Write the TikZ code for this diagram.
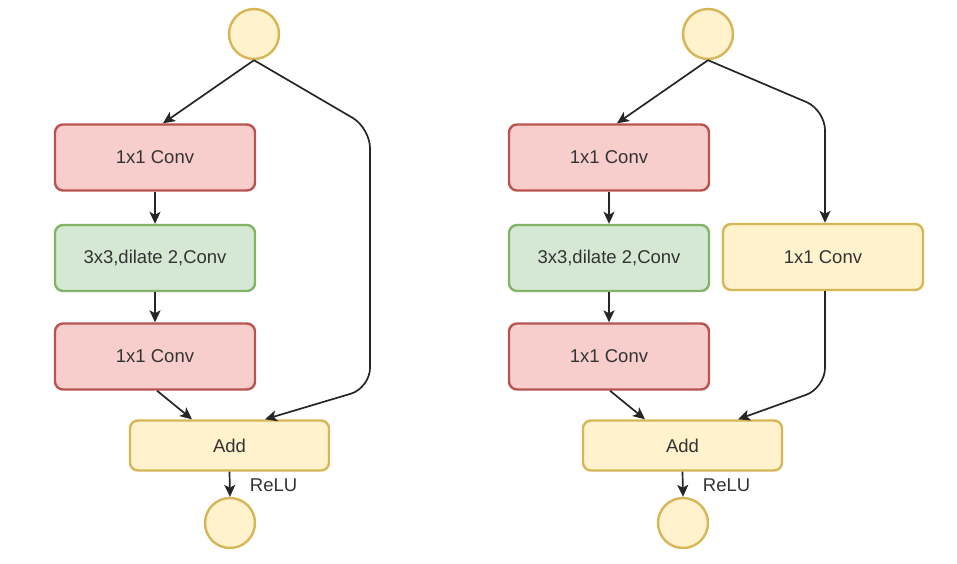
\documentclass[tikz,border=0pt]{standalone}
\usepackage{fontspec}
\setmainfont{Liberation Sans}
\usetikzlibrary{arrows.meta}
\definecolor{redfill}{HTML}{F8CECC}
\definecolor{redline}{HTML}{B85450}
\definecolor{greenfill}{HTML}{D5E8D4}
\definecolor{greenline}{HTML}{82B366}
\definecolor{yelfill}{HTML}{FFF2CC}
\definecolor{yelline}{HTML}{D6B656}
\definecolor{txt}{HTML}{333333}
\begin{document}
\begin{tikzpicture}[x=1pt,y=-1pt,
  box/.style={rectangle, rounded corners=8pt, line width=2.4pt, minimum width=200pt, minimum height=66pt, inner sep=0pt, font=\fontsize{18.5}{20}\selectfont, text=txt},
  redbox/.style={box, draw=redline, fill=redfill},
  greenbox/.style={box, draw=greenline, fill=greenfill},
  yelbox/.style={box, draw=yelline, fill=yelfill},
  addbox/.style={yelbox, minimum width=199pt, minimum height=50pt},
  io/.style={circle, draw=yelline, fill=yelfill, line width=2.4pt, minimum size=50pt, inner sep=0pt},
  arr/.style={draw=black!85, line width=1.7pt, -{Stealth[length=12pt,width=11pt,inset=3pt]}},
  lbl/.style={font=\fontsize{18.5}{20}\selectfont, text=txt, anchor=west}
]
\useasboundingbox (0,0) rectangle (957,563);

% ---------- left block ----------
\node[io] (inL) at (254,34) {};
\node[redbox] (c1L) at (155,157.5) {1x1 Conv};
\node[greenbox] (dL) at (155,258) {3x3,dilate 2,Conv};
\node[redbox] (c2L) at (155,356.5) {1x1 Conv};
\node[addbox] (addL) at (229.5,445.5) {Add};
\node[io] (outL) at (230,523) {};
\coordinate (kL1) at (370,128);
\coordinate (kL2) at (370,388);

\draw[arr] (inL.south) -- ([xshift=8pt]c1L.north);
\draw[arr] (c1L) -- (dL);
\draw[arr] (dL) -- (c2L);
\draw[arr] ([xshift=2pt]c2L.south) -- ([xshift=-37.5pt]addL.north);
\draw[arr, rounded corners=20pt] (inL.south) -- (kL1) -- (kL2) -- ([xshift=35.5pt]addL.north);
\draw[arr] (addL.south) -- node[lbl, xshift=16pt, yshift=-1pt] {ReLU} (outL.north);

% ---------- right block ----------
\node[io] (inR) at (708,34) {};
\node[redbox] (c1R) at (609,157.5) {1x1 Conv};
\node[greenbox] (dR) at (609,258) {3x3,dilate 2,Conv};
\node[redbox] (c2R) at (609,356.5) {1x1 Conv};
\node[yelbox] (scR) at (823,257) {1x1 Conv};
\node[addbox] (addR) at (682.5,445.5) {Add};
\node[io] (outR) at (683,523) {};
\coordinate (kR1) at (825,110);
\coordinate (kR2) at (825,388);

\draw[arr] (inR.south) -- ([xshift=8pt]c1R.north);
\draw[arr] (c1R) -- (dR);
\draw[arr] (dR) -- (c2R);
\draw[arr] ([xshift=1pt]c2R.south) -- ([xshift=-37.5pt]addR.north);
\draw[arr, rounded corners=20pt] (inR.south) -- (kR1) -- ([xshift=2pt]scR.north);
\draw[arr, rounded corners=20pt] ([xshift=2pt]scR.south) -- (kR2) -- ([xshift=55.5pt]addR.north);
\draw[arr] (addR.south) -- node[lbl, xshift=16pt, yshift=-1pt] {ReLU} (outR.north);
\end{tikzpicture}
\end{document}
